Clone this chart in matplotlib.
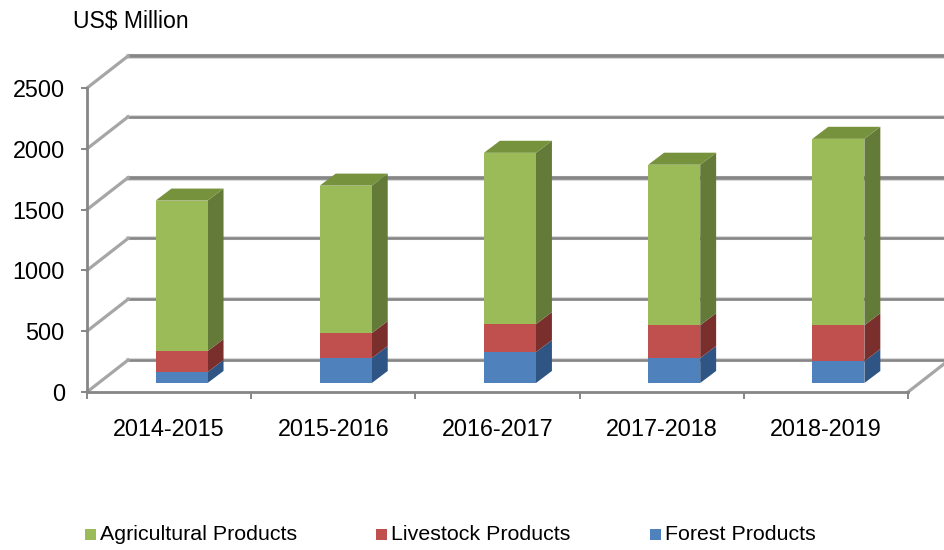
import matplotlib
matplotlib.use('Agg')
import matplotlib.pyplot as plt
from matplotlib.patches import Polygon, Rectangle
import numpy as np

plt.rcParams['font.family'] = ['Liberation Sans', 'DejaVu Sans']

years = ['2014-2015', '2015-2016', '2016-2017', '2017-2018', '2018-2019']
forest = [90, 205, 254, 205, 180]
livestock = [172, 205, 230, 270, 295]
agricultural = [1238, 1213, 1409, 1320, 1533]
y_ticks = [0, 500, 1000, 1500, 2000, 2500]
y_width = [2.6, 2.6, 2.6, 3.6, 2.6, 3.6]

# colours: front, side, top
c_agri = ('#9BBB59', '#647A38', '#76923C')
c_live = ('#C0504D', '#7B2F2D', '#7B2F2D')
c_fore = ('#4F81BD', '#2F5585', '#2F5585')

# fake 3d offsets in data units (1 category = 164.2 px, 500 = 60.8 px)
wall_dx, wall_dy = 0.25, 263
bar_dx, bar_dy = 0.097, 99
bar_shift, bar_lift = 0.076, 74
bar_w = 0.317
right_edge = 4.725

fig = plt.figure(figsize=(9.45, 5.5), dpi=100)
ax = fig.add_axes([87 / 945, 158 / 550, 821 / 945, 304 / 550])
ax.set_xlim(-0.5, 4.5)
ax.set_ylim(0, 2500)
for s in ax.spines.values():
    s.set_visible(False)

grey = '#868686'

# back wall lines and the diagonals on the side wall
for v, w in zip(y_ticks, y_width):
    ax.plot([-0.5 + wall_dx, right_edge], [v + wall_dy, v + wall_dy], color='#D9D9D9',
            lw=(w + 1.5) * 0.72, clip_on=False, zorder=1)
    ax.plot([-0.5 + wall_dx, right_edge], [v + wall_dy, v + wall_dy], color=grey,
            lw=w * 0.72, clip_on=False, zorder=1.1, solid_capstyle='butt')
    ax.plot([-0.5, -0.5 + wall_dx], [v, v + wall_dy], color='#A6A6A6',
            lw=3.2 * 0.72, clip_on=False, zorder=1.2)

# floor edge, right side
ax.plot([-0.5, 4.5], [0, 0], color=grey, lw=2.8 * 0.72, clip_on=False, zorder=1.3)
ax.plot([4.5, right_edge], [0, 0.9 * wall_dy], color='#A6A6A6', lw=3.2 * 0.72,
        clip_on=False, zorder=1.2)
ax.plot([-0.5, -0.5], [0, 2500], color=grey, lw=2.8 * 0.72, clip_on=False, zorder=1.3)

# bars, stacked from the bottom up
x = np.arange(len(years)) + bar_shift
bottom = np.full(len(years), bar_lift, dtype=float)
for vals, cols in [(forest, c_fore), (livestock, c_live), (agricultural, c_agri)]:
    ax.bar(x, vals, bar_w, bottom=bottom, color=cols[0], zorder=3)
    for xi, b, v in zip(x, bottom, vals):
        r = xi + bar_w / 2
        ax.add_patch(Polygon([(r, b), (r + bar_dx, b + bar_dy), (r + bar_dx, b + v + bar_dy), (r, b + v)],
                             closed=True, fc=cols[1], ec='none', zorder=2.9, clip_on=False))
    bottom = bottom + np.array(vals)

# top faces
for xi, t in zip(x, bottom):
    l, r = xi - bar_w / 2, xi + bar_w / 2
    ax.add_patch(Polygon([(l, t), (r, t), (r + bar_dx, t + bar_dy), (l + bar_dx, t + bar_dy)],
                         closed=True, fc=c_agri[2], ec='none', zorder=2.9, clip_on=False))

ax.set_yticks(y_ticks)
ax.set_xticks(np.arange(-0.5, 5, 1))
ax.set_xticklabels([])
ax.set_xticks(np.arange(len(years)), labels=years, minor=True)
ax.tick_params(axis='x', which='major', length=5, width=1.4, color=grey)
ax.tick_params(axis='x', which='minor', length=0, pad=19, labelsize=16.8)
ax.tick_params(axis='y', length=4, width=1.4, color=grey, pad=12, labelsize=16.8)

fig.text(73 / 945, 1 - 21 / 550, 'US$ Million', fontsize=16.6, va='center', ha='left')

# legend
leg_names = ['Agricultural Products', 'Livestock Products', 'Forest Products']
leg_cols = [c_agri[0], c_live[0], c_fore[0]]
leg_x = [85, 376, 650]
leg_text_x = [100, 391, 665]
for name, col, lx, tx in zip(leg_names, leg_cols, leg_x, leg_text_x):
    fig.add_artist(Rectangle((lx / 945, 1 - 540 / 550), 11 / 945, 11 / 550, fc=col, ec='none',
                             transform=fig.transFigure))
    fig.text(tx / 945, 1 - 535 / 550, name, fontsize=15.4, va='center', ha='left')

fig.savefig('out.png', dpi=100)
